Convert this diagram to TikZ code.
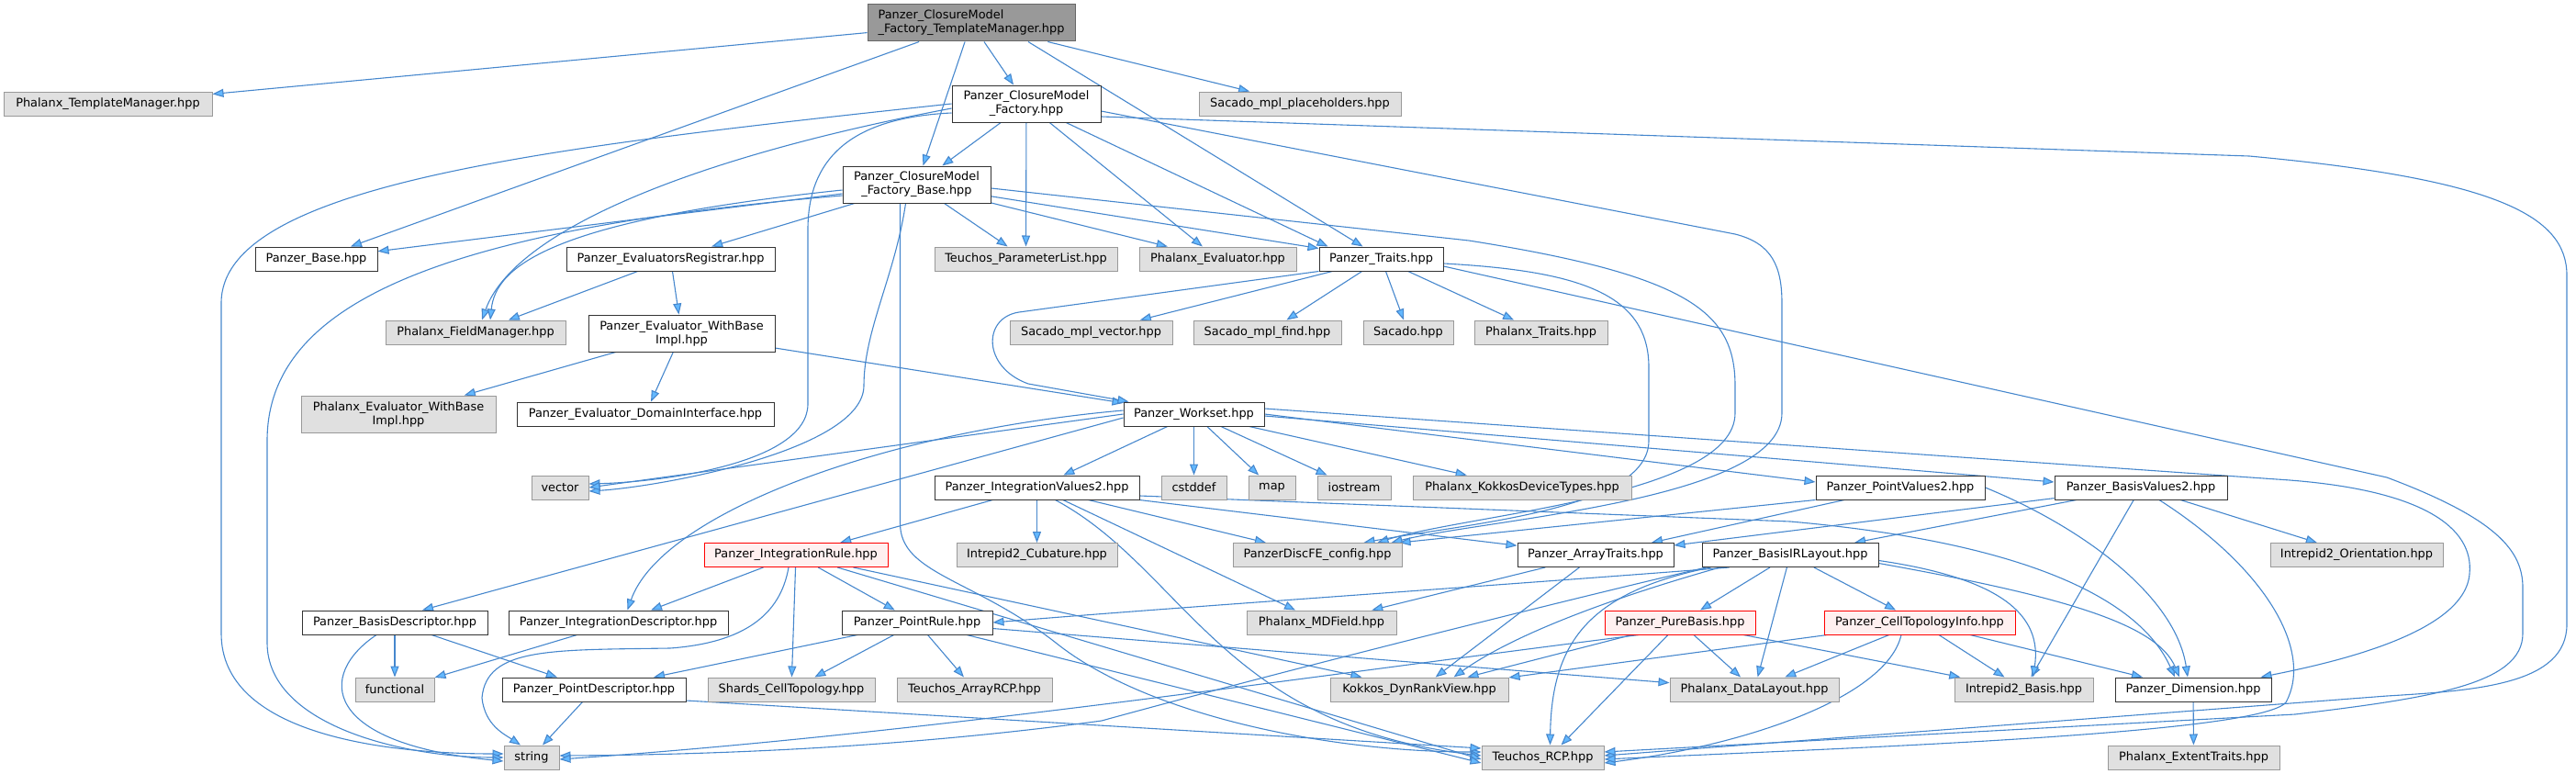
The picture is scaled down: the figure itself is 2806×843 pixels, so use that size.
\documentclass[tikz,border=0pt]{standalone}
\usepackage{fontspec}
\setmainfont{DejaVu Sans}
\usetikzlibrary{arrows.meta}

\definecolor{edgeblue}{RGB}{70,135,205}
\definecolor{tipblue}{RGB}{99,184,255}
\definecolor{sysfill}{RGB}{224,224,224}
\definecolor{sysline}{RGB}{153,153,153}
\definecolor{topfill}{RGB}{153,153,153}
\definecolor{topline}{RGB}{102,102,102}
\definecolor{redfill}{RGB}{255,240,240}

\pgfdeclarelayer{edges}
\pgfsetlayers{edges,main}

\tikzset{
  hfile/.style={draw=black!80, fill=white, line width=1pt, inner sep=0pt,
    minimum height=26pt, align=center, font=\fontsize{12.9}{15}\selectfont},
  sysfile/.style={hfile, draw=sysline, fill=sysfill},
  mainfile/.style={hfile, draw=topline, fill=topfill},
  redfile/.style={hfile, draw=red, fill=redfill},
  twoline/.style={minimum height=40pt},
  inc/.style={draw=edgeblue, line width=1.1pt,
    -{Triangle[length=12pt,width=9pt,fill=tipblue]}},
}

\begin{document}
\begin{tikzpicture}[x=1pt,y=-1pt]
  \useasboundingbox (0,0) rectangle (2806,843);

  \node[mainfile, twoline, minimum width=226pt, align=left] (tmgr) at (1058,25) {Panzer\_ClosureModel\\\_Factory\_TemplateManager.hpp};
  \node[sysfile, minimum width=227pt] (ptm) at (117.5,113) {Phalanx\_TemplateManager.hpp};
  \node[hfile, twoline, minimum width=162pt] (cmf) at (1118,113) {Panzer\_ClosureModel\\\_Factory.hpp};
  \node[sysfile, minimum width=220pt] (smp) at (1416,113) {Sacado\_mpl\_placeholders.hpp};
  \node[hfile, twoline, minimum width=161pt] (cmfb) at (998.5,201) {Panzer\_ClosureModel\\\_Factory\_Base.hpp};

  \node[hfile, minimum width=133pt] (pbase) at (344.5,282) {Panzer\_Base.hpp};
  \node[hfile, minimum width=227pt] (evreg) at (730.5,282) {Panzer\_EvaluatorsRegistrar.hpp};
  \node[sysfile, minimum width=199pt] (tpl) at (1117.5,282) {Teuchos\_ParameterList.hpp};
  \node[sysfile, minimum width=171pt] (pev) at (1326.5,282) {Phalanx\_Evaluator.hpp};
  \node[hfile, minimum width=135pt] (traits) at (1504.5,282) {Panzer\_Traits.hpp};

  \node[sysfile, minimum width=196pt] (pfm) at (518,362) {Phalanx\_FieldManager.hpp};
  \node[hfile, twoline, minimum width=203pt] (evwb) at (742.5,363) {Panzer\_Evaluator\_WithBase\\Impl.hpp};
  \node[sysfile, minimum width=177pt] (smv) at (1188.5,362) {Sacado\_mpl\_vector.hpp};
  \node[sysfile, minimum width=161pt] (smf) at (1380.5,362) {Sacado\_mpl\_find.hpp};
  \node[sysfile, minimum width=98pt] (sacado) at (1534,362) {Sacado.hpp};
  \node[sysfile, minimum width=145pt] (ptraits) at (1678.5,362) {Phalanx\_Traits.hpp};

  \node[sysfile, twoline, minimum width=212pt] (pevwb) at (434,451) {Phalanx\_Evaluator\_WithBase\\Impl.hpp};
  \node[hfile, minimum width=280pt] (edi) at (703,451) {Panzer\_Evaluator\_DomainInterface.hpp};
  \node[hfile, minimum width=153pt] (workset) at (1300.5,451) {Panzer\_Workset.hpp};

  \node[sysfile, minimum width=62pt] (vector) at (610,531) {vector};
  \node[hfile, minimum width=223pt] (iv2) at (1129.5,531) {Panzer\_IntegrationValues2.hpp};
  \node[sysfile, minimum width=71pt] (cstddef) at (1300.5,531) {cstddef};
  \node[sysfile, minimum width=51pt] (map) at (1385.5,531) {map};
  \node[sysfile, minimum width=80pt] (iostream) at (1475,531) {iostream};
  \node[sysfile, minimum width=238pt] (kdt) at (1658,531) {Phalanx\_KokkosDeviceTypes.hpp};
  \node[hfile, minimum width=184pt] (pv2) at (2070,531) {Panzer\_PointValues2.hpp};
  \node[hfile, minimum width=188pt] (bv2) at (2332,531) {Panzer\_BasisValues2.hpp};

  \node[redfile, minimum width=200pt] (ir) at (867,604.5) {Panzer\_IntegrationRule.hpp};
  \node[sysfile, minimum width=175pt] (cub) at (1129.5,604.5) {Intrepid2\_Cubature.hpp};
  \node[sysfile, minimum width=184pt] (discfe) at (1435,604.5) {PanzerDiscFE\_config.hpp};
  \node[hfile, minimum width=170pt] (arrtraits) at (1738,604.5) {Panzer\_ArrayTraits.hpp};
  \node[hfile, minimum width=192pt] (birl) at (1950,604.5) {Panzer\_BasisIRLayout.hpp};
  \node[sysfile, minimum width=188pt] (orient) at (2567,604.5) {Intrepid2\_Orientation.hpp};

  \node[hfile, minimum width=202pt] (bdesc) at (430,678) {Panzer\_BasisDescriptor.hpp};
  \node[hfile, minimum width=239pt] (idesc) at (673.5,678) {Panzer\_IntegrationDescriptor.hpp};
  \node[hfile, minimum width=164pt] (prule) at (999,678) {Panzer\_PointRule.hpp};
  \node[sysfile, minimum width=163pt] (mdfield) at (1439.5,678) {Phalanx\_MDField.hpp};
  \node[redfile, minimum width=164pt] (pbasis) at (1830,678) {Panzer\_PureBasis.hpp};
  \node[redfile, minimum width=208pt] (cti) at (2091,678) {Panzer\_CellTopologyInfo.hpp};

  \node[sysfile, minimum width=86pt] (functional) at (430,751) {functional};
  \node[hfile, minimum width=200pt] (pdesc) at (647,751) {Panzer\_PointDescriptor.hpp};
  \node[sysfile, minimum width=182pt] (shards) at (862,751) {Shards\_CellTopology.hpp};
  \node[sysfile, minimum width=169pt] (arcp) at (1061.5,751) {Teuchos\_ArrayRCP.hpp};
  \node[sysfile, minimum width=194pt] (kdrv) at (1546,751) {Kokkos\_DynRankView.hpp};
  \node[sysfile, minimum width=184pt] (pdl) at (1911,751) {Phalanx\_DataLayout.hpp};
  \node[sysfile, minimum width=151pt] (ibasis) at (2204.5,751) {Intrepid2\_Basis.hpp};
  \node[hfile, minimum width=170pt] (dim) at (2389,751) {Panzer\_Dimension.hpp};

  \node[sysfile, minimum width=60pt] (string) at (579,825) {string};
  \node[sysfile, minimum width=133pt] (rcp) at (1680.5,825) {Teuchos\_RCP.hpp};
  \node[sysfile, minimum width=187pt] (extent) at (2389.5,825) {Phalanx\_ExtentTraits.hpp};

  \begin{pgfonlayer}{edges}
    \foreach \a/\b in {tmgr/ptm, tmgr/pbase, tmgr/cmfb, tmgr/cmf, tmgr/smp,
        cmf/cmfb, cmf/tpl, cmf/pev, cmfb/pbase, cmfb/evreg, cmfb/tpl, cmfb/pev,
        evreg/pfm, evreg/evwb, evwb/pevwb, evwb/edi, evwb/workset,
        traits/smv, traits/smf, traits/sacado, traits/ptraits,
        workset/iv2, workset/cstddef, workset/map, workset/iostream, workset/kdt,
        iv2/ir, iv2/cub, iv2/discfe, iv2/arrtraits, iv2/mdfield,
        ir/idesc, ir/shards, ir/prule, ir/kdrv,
        prule/pdesc, prule/shards, prule/arcp, prule/pdl,
        bdesc/functional, bdesc/pdesc, idesc/functional,
        birl/pbasis, birl/pdl, birl/cti, pbasis/kdrv, pbasis/pdl, pbasis/ibasis,
        cti/kdrv, cti/pdl, cti/ibasis, cti/dim, arrtraits/mdfield, arrtraits/kdrv,
        pv2/arrtraits, bv2/birl, bv2/arrtraits, bv2/ibasis, bv2/orient, dim/extent}
      \draw[inc] (\a) -- (\b);

    \draw[inc] ([xshift=62]tmgr.south) -- ([xshift=-20]traits.north);
    \draw[inc] (cmf) -- ([xshift=10]traits.north west);
    \draw[inc] (cmfb) -- ([yshift=-2]traits.north west);

    \draw[inc] (cmf.west) .. controls (600,160) and (241,200) .. (241,330) -- (241,690)
      .. controls (241,800) and (420,821) .. ([yshift=4]string.west);
    \draw[inc] ([yshift=-5]cmf.west) .. controls (760,170) and (560,250) .. ([xshift=7]pfm.north);
    \draw[inc] ([yshift=-10]cmf.west) .. controls (930,128) and (880,170) .. (880,250) -- (880,440)
      .. controls (880,505) and (720,525) .. ([yshift=4]vector.east);
    \draw[inc] ([yshift=-8]cmf.east) -- (1890,255) .. controls (1930,265) and (1941,290) .. (1941,330)
      -- (1941,450) .. controls (1941,545) and (1620,565) .. ([xshift=-12]discfe.north east);
    \draw[inc] ([yshift=-14]cmf.east) -- (2450,170) .. controls (2720,195) and (2796,235) .. (2796,300)
      -- (2796,680) .. controls (2796,745) and (2700,752) .. (2600,758) -- ([yshift=2]rcp.east);

    \draw[inc] ([yshift=-6]cmfb.west) .. controls (600,240) and (540,290) .. ([xshift=16]pfm.north);
    \draw[inc] ([yshift=-12]cmfb.west) .. controls (480,250) and (291,330) .. (291,480) -- (291,700)
      .. controls (291,790) and (440,825) .. (string.west);
    \draw[inc] ([xshift=-12]cmfb.south) .. controls (975,300) and (941,360) .. (941,420)
      .. controls (941,490) and (720,530) .. ([yshift=-4]vector.east);
    \draw[inc] ([xshift=-18]cmfb.south) -- (980.5,570) .. controls (980.5,625) and (1060,630) .. (1150,700)
      .. controls (1250,780) and (1450,819) .. ([yshift=6]rcp.west);
    \draw[inc] ([yshift=-4]cmfb.east) -- (1600,262) .. controls (1840,300) and (1890,340) .. (1890,420)
      -- (1890,450) .. controls (1890,540) and (1600,560) .. ([xshift=-27]discfe.north east);

    \draw[inc] ([yshift=-5]traits.east) .. controls (1720,295) and (1796,320) .. (1796,400) -- (1796,480)
      .. controls (1796,555) and (1600,570) .. ([xshift=-42]discfe.north east);
    \draw[inc] ([yshift=-8]traits.east) -- (2600,520) .. controls (2720,565) and (2748,600) .. (2748,640)
      -- (2748,690) .. controls (2748,745) and (2650,760) .. (2500,778) -- ([yshift=6]rcp.east);
    \draw[inc] (traits.south west) -- (1110,340) .. controls (1070,346) and (1070,400) .. (1120,418)
      -- ([xshift=6]workset.north west);

    \draw[inc] ([yshift=6]workset.east) -- (2480,522) .. controls (2640,532) and (2695,575) .. (2690,625)
      .. controls (2685,690) and (2540,722) .. ([xshift=-12]dim.north east);
    \draw[inc] ([yshift=-2]workset.east) -- ([yshift=6]bv2.west);
    \draw[inc] (workset.east) -- ([yshift=6]pv2.west);
    \draw[inc] (workset.west) -- (vector.east);
    \draw[inc] ([yshift=-4]workset.west) -- ([xshift=30]bdesc.north);
    \draw[inc] ([yshift=4]workset.west) .. controls (960,470) and (720,560) .. ([xshift=10]idesc.north);

    \draw[inc] ([xshift=20]iv2.south) .. controls (1290,620) and (1330,790) .. ([yshift=2]rcp.west);
    \draw[inc] ([yshift=-9]iv2.east) -- (1950,568) .. controls (2200,590) and (2330,650) .. ([xshift=-20]dim.north);

    \draw[inc] ([xshift=-8]ir.south) .. controls (850,670) and (810,700) .. (730,706)
      .. controls (600,708) and (530,705) .. (525,760) .. controls (528,790) and (550,800) .. ([xshift=-12]string.north);
    \draw[inc] (ir) -- ([yshift=-2]rcp.west);
    \draw[inc] (prule) -- ([yshift=-6]rcp.west);

    \draw[inc] ([xshift=-20]bdesc.south) .. controls (345,735) and (350,810) .. ([yshift=-4]string.west);
    \draw[inc] (pdesc) -- ([xshift=12]string.north);
    \draw[inc] ([yshift=-12]pdesc.east) -- ([yshift=10]rcp.west);

    \draw[inc] ([xshift=20]birl.south west) .. controls (1760,650) and (1650,690) .. ([xshift=-60]kdrv.north east);
    \draw[inc] ([xshift=10]birl.south west) .. controls (1730,645) and (1690,700) .. ([xshift=8]rcp.north);
    \draw[inc] ([xshift=5]birl.south west) .. controls (1720,650) and (1400,730) .. (1200,785)
      .. controls (1000,812) and (800,822) .. ([yshift=2]string.east);
    \draw[inc] ([xshift=30]birl.south west) .. controls (1600,640) and (1300,660) .. (prule.east);
    \draw[inc] ([yshift=-6]birl.east) .. controls (2180,630) and (2225,670) .. ([xshift=10]ibasis.north);
    \draw[inc] ([yshift=-9]birl.east) .. controls (2250,650) and (2350,680) .. ([xshift=-15]dim.north);

    \draw[inc] ([xshift=-45]pbasis.south) .. controls (1400,740) and (1000,800) .. ([yshift=-2]string.east);
    \draw[inc] (pbasis) -- ([xshift=20]rcp.north);
    \draw[inc] ([xshift=-20]cti.south) .. controls (2055,760) and (1900,812) .. ([yshift=-6]rcp.east);

    \draw[inc] (pv2.south west) -- ([xshift=-3]discfe.north east);
    \draw[inc] (pv2.east) .. controls (2270,575) and (2370,650) .. ([xshift=-6]dim.north);
    \draw[inc] ([xshift=20]bv2.south) .. controls (2470,620) and (2520,710) .. (2490,765)
      .. controls (2460,800) and (2000,815) .. ([yshift=-2]rcp.east);
  \end{pgfonlayer}
\end{tikzpicture}
\end{document}
